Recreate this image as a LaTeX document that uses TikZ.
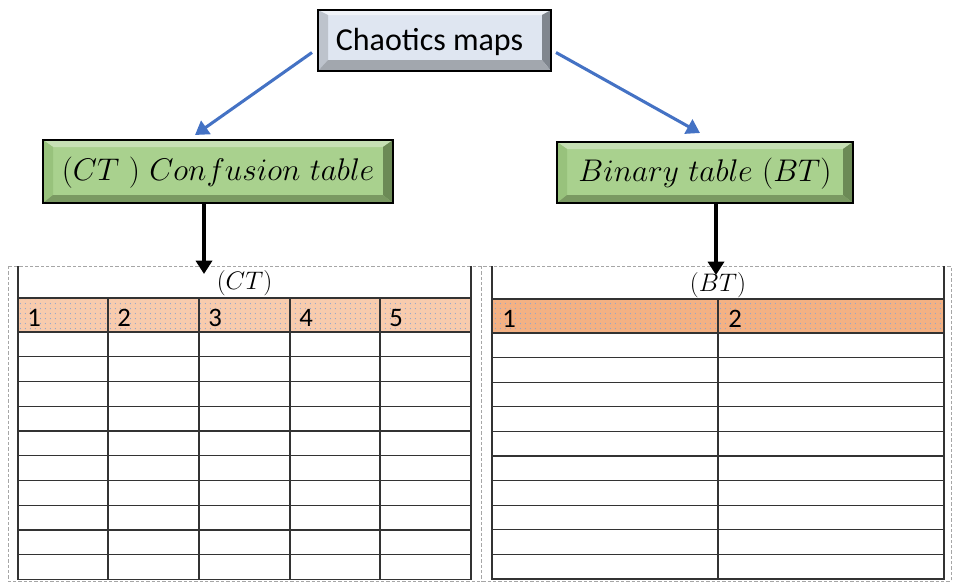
\documentclass[tikz,border=0pt]{standalone}
\usepackage{fix-cm}
\usepackage{fontspec}
\newfontfamily\calibri{Carlito}
\usetikzlibrary{patterns.meta,arrows.meta,calc}
\definecolor{chface}{HTML}{DFE6F1}
\definecolor{chtop}{HTML}{F0F3F8}
\definecolor{chleft}{HTML}{BDC3CC}
\definecolor{chright}{HTML}{80868E}
\definecolor{chbot}{HTML}{A2A7AE}
\definecolor{gface}{HTML}{A9D18E}
\definecolor{gtop}{HTML}{C6E0B4}
\definecolor{gleft}{HTML}{98C27C}
\definecolor{gright}{HTML}{6C8A56}
\definecolor{gbot}{HTML}{7A9962}
\definecolor{hdrA}{HTML}{F8CBAD}
\definecolor{hdrB}{HTML}{F4B183}
\definecolor{dotc}{HTML}{8FA6CC}
\definecolor{bluearr}{HTML}{4472C4}
\definecolor{gridc}{HTML}{333333}
\newcommand\bevelbox[9]{%
  \coordinate (o1) at (#1.north west); \coordinate (o2) at (#1.north east);
  \coordinate (o3) at (#1.south east); \coordinate (o4) at (#1.south west);
  \coordinate (i1) at ($(o1)+(#3,#2)$); \coordinate (i2) at ($(o2)+(-#4,#2)$);
  \coordinate (i3) at ($(o3)+(-#4,-#5)$); \coordinate (i4) at ($(o4)+(#3,-#5)$);
  \fill[#6] (o1)--(o2)--(i2)--(i1)--cycle;
  \fill[#7] (o1)--(i1)--(i4)--(o4)--cycle;
  \fill[#8] (o2)--(o3)--(i3)--(i2)--cycle;
  \fill[#9] (o4)--(i4)--(i3)--(o3)--cycle;
  \draw[black,line width=1.8pt] (o1) rectangle (o3);
}
\tikzset{
  boxnode/.style={rectangle,inner sep=0pt,outer sep=0pt},
  bluearrow/.style={draw=bluearr,line width=2.3pt,-{Triangle[length=10pt,width=12pt]}},
  blackarrow/.style={draw=black,line width=3pt,-{Triangle[length=10pt,width=12pt]}},
  grid/.style={draw=gridc,line width=1pt},
  frame/.style={draw=gray!70,dashed,line width=0.6pt,dash pattern=on 2.5pt off 1.5pt},
  digit/.style={anchor=base west,inner sep=0pt,font=\calibri\fontsize{20}{24}\selectfont},
  ttl/.style={inner sep=0pt,font=\fontsize{19}{23}\selectfont}
}
\begin{document}
\begin{tikzpicture}[x=0.75pt,y=-0.75pt]
\useasboundingbox (0,0) rectangle (953,583);
% top box
\node[boxnode,fill=chface,minimum width=174.75pt,minimum height=45.75pt] (chaos) at (434.5,40.5) {};
\bevelbox{chaos}{5}{10}{9}{11}{chtop}{chleft}{chright}{chbot}
\node[inner sep=0pt,font=\calibri\fontsize{24}{28}\selectfont] (chaostxt) at (429.5,42) {Chaotics maps};
% green boxes
\node[boxnode,fill=gface,minimum width=262.5pt,minimum height=47.25pt] (ct) at (218,171.5) {};
\bevelbox{ct}{7}{10}{10}{8}{gtop}{gleft}{gright}{gbot}
\node[inner sep=0pt,font=\fontsize{23.5}{27}\selectfont] (cttxt) at (218,173) {$(CT\ )\ Confusion\ table$};
\node[boxnode,fill=gface,minimum width=222pt,minimum height=45.75pt] (bt) at (705,172.5) {};
\bevelbox{bt}{7}{10}{10}{8}{gtop}{gleft}{gright}{gbot}
\node[inner sep=0pt,font=\fontsize{23.5}{27}\selectfont] (bttxt) at (705,174) {$Binary\ table\ (BT)$};
% blue arrows
\draw[bluearrow] ($(chaos.west)+(-6,12)$) -- ($(ct.north)+(-23,-5)$);
\draw[bluearrow] ($(chaos.east)+(5,12)$) -- ($(bt.north)+(-5,-9)$);
% dashed frames
\draw[frame] (8,266) rectangle (951,581);
\draw[frame] (481,266) -- (481,581);
% left table
\fill[hdrA] (18,298) rectangle (471,332);
\fill[pattern={Dots[distance=4pt,radius=0.5pt]},pattern color=dotc] (18,298) rectangle (471,332);
\foreach \yy in {298,332,356.75,381.5,406.25,431,455.75,480.5,505.25,530,554.75,579.5}
  \draw[grid] (18,\yy) -- (471,\yy);
\foreach \xx in {18,471}
  \draw[grid] (\xx,266) -- (\xx,580);
\foreach \xx in {108,199,290,380}
  \draw[grid] (\xx,298) -- (\xx,580);
\node[ttl] (ctt) at (244.5,283) {$(CT)$};
\foreach \xx/\dd in {18/1,108/2,199/3,290/4,380/5}
  \node[digit] (ctd\dd) at (\xx+9,326) {\dd};
% right table
\fill[hdrB] (492,299) rectangle (944,333);
\fill[pattern={Dots[distance=4pt,radius=0.5pt]},pattern color=dotc] (492,299) rectangle (944,333);
\foreach \yy in {299,333,357.6,382.2,406.8,431.4,456,480.6,505.2,529.8,554.4,579}
  \draw[grid] (492,\yy) -- (944,\yy);
\foreach \xx in {492,944}
  \draw[grid] (\xx,266) -- (\xx,580);
\draw[grid] (718,299) -- (718,580);
\node[ttl] (btt) at (718,285) {$(BT)$};
\node[digit] (btd1) at (502,327) {1};
\node[digit] (btd2) at (728,327) {2};
% black arrows
\coordinate (ctin) at (204,274);
\coordinate (btin) at (716,275);
\draw[blackarrow] (ct.south -| ctin) -- (ctin);
\draw[blackarrow] (bt.south -| btin) -- (btin);
\end{tikzpicture}
\end{document}
